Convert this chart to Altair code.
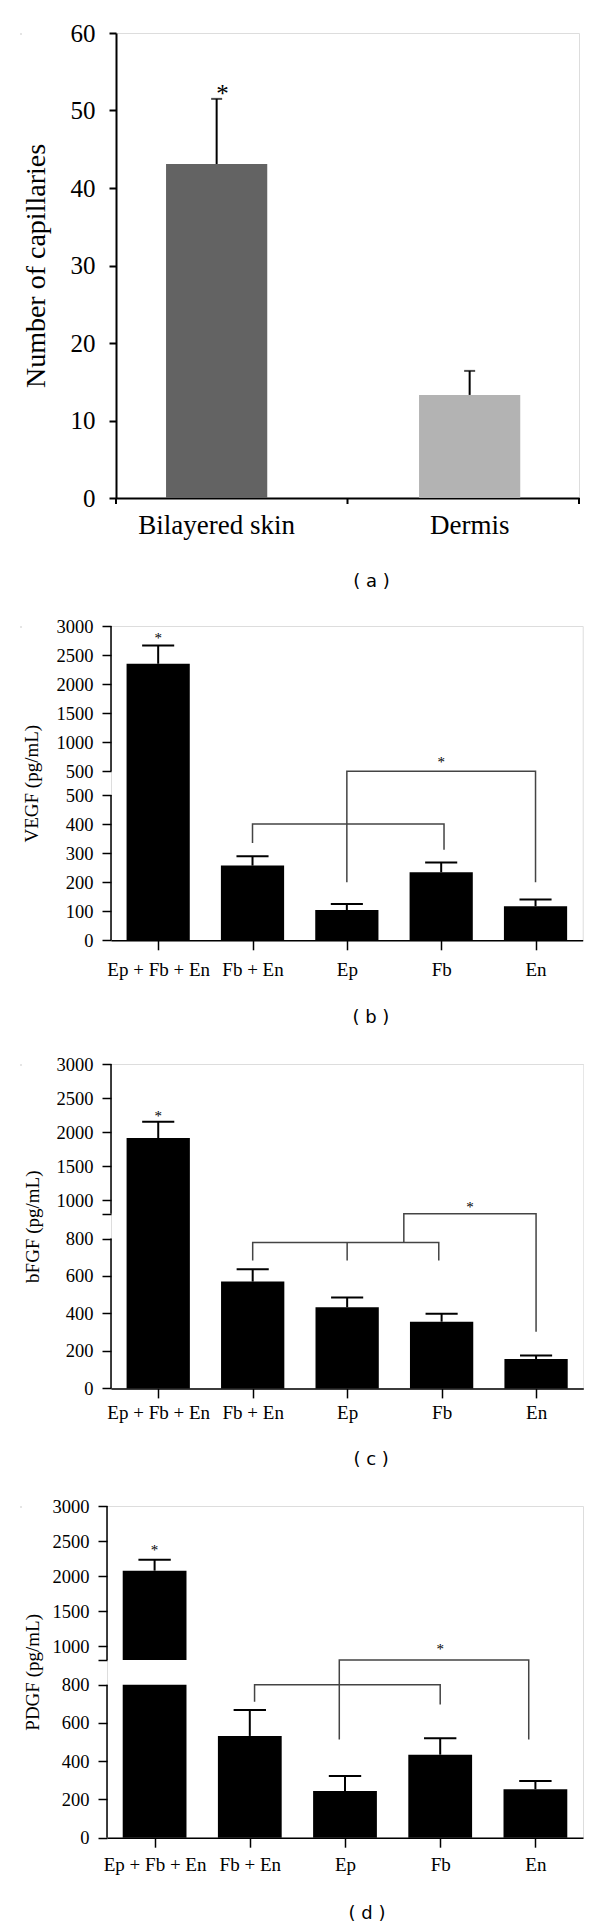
import altair as alt
import pandas as pd

# ---------------- data ----------------
# panel (a)
a_categories = ["Bilayered skin", "Dermis"]
a_means = [43.1, 13.3]
a_sem = [8.4, 3.1]
a_colors = ["#636363", "#b3b3b3"]
a_yticks = [0, 10, 20, 30, 40, 50, 60]
a_divisions = [0, 1, 2]

# panels (b)-(d)
categories = ["Ep + Fb + En", "Fb + En", "Ep", "Fb", "En"]
vegf_mean = [2350, 257, 104, 234, 117]
vegf_sem = [313, 32, 21, 34, 23]
bfgf_mean = [1912, 570, 433, 356, 157]
bfgf_sem = [241, 66, 52, 43, 18]
pdgf_mean = [2076, 532, 244, 434, 253]
pdgf_sem = [157, 136, 79, 86, 43]

vegf_ticks_low = [0, 100, 200, 300, 400, 500]
vegf_ticks_high = [500, 1000, 1500, 2000, 2500, 3000]
fgf_ticks_low = [0, 200, 400, 600, 800]
fgf_ticks_high = [800, 1000, 1500, 2000, 2500, 3000]
pdgf_ticks_low = [0, 200, 400, 600, 800]
pdgf_ticks_high = [800, 1000, 1500, 2000, 2500, 3000]
unlabeled_high = [800]

# significance brackets: polylines of (category index, value, axis segment)
vegf_brackets = [
    [(1, 335, "lo"), (1, 400, "lo"), (3.03, 400, "lo"), (3.03, 312, "lo")],
    [(2, 200, "lo"), (2, 500, "hi"), (4, 500, "hi"), (4, 200, "lo")],
]
vegf_stars = [(0, 2852, "hi"), (3, 706, "hi")]
bfgf_brackets = [
    [(1, 682, "lo"), (1, 779, "lo"), (2.97, 779, "lo"), (2.97, 682, "lo")],
    [(2, 779, "lo"), (2, 682, "lo")],
    [(2.6, 779, "lo"), (2.6, 800, "hi"), (4, 800, "hi"), (4, 303, "lo")],
]
bfgf_stars = [(0, 2279, "hi"), (3.3, 947, "hi")]
pdgf_brackets = [
    [(1.05, 711, "lo"), (1.05, 800, "lo"), (3, 800, "lo"), (3, 697, "lo")],
    [(1.94, 514, "lo"), (1.94, 800, "hi"), (3.93, 800, "hi"), (3.93, 514, "lo")],
]
pdgf_stars = [(0, 2419, "hi"), (3, 1000, "hi")]

SERIF = "Liberation Serif"
SANS = "DejaVu Sans"


def sub_title(text, offset, dx):
    return alt.TitleParams(text=text, orient="bottom", anchor="middle", font=SANS,
                           fontSize=18, fontWeight="normal", color="black",
                           baseline="top", offset=offset, dx=dx)


# ---------------- panel (a) ----------------
WA, HA = 463, 465
a_df = pd.DataFrame({"cat": a_categories, "mean": a_means,
                     "top": [m + s for m, s in zip(a_means, a_sem)]})
a_star = pd.DataFrame({"cat": [a_categories[0]], "star": [a_means[0] + a_sem[0] + 1.4]})

xa_scale = alt.Scale(domain=a_categories, paddingInner=0.6, paddingOuter=0.215, align=0.46)
xa_axis = alt.Axis(title=None, labelAngle=0, domain=True, domainColor="black", domainWidth=2,
                   ticks=False, tickSize=0, labelFont=SERIF, labelFontSize=27,
                   labelColor="black", labelPadding=14.4, grid=False)
ya_scale = alt.Scale(domain=[0, 60], nice=False)
ya_axis = alt.Axis(values=a_yticks, title="Number of capillaries", domain=True,
                   domainColor="black", domainWidth=2, ticks=True, tickSize=7, tickWidth=2,
                   tickColor="black", labelFont=SERIF, labelFontSize=25, labelColor="black",
                   labelPadding=14, titleFont=SERIF, titleFontSize=28, titleFontWeight="normal",
                   titleColor="black", titleX=-65.5, grid=False)


def XA(with_axis=False):
    return alt.X("cat:N", scale=xa_scale, axis=xa_axis if with_axis else None)


def YA(f):
    return alt.Y(f + ":Q", scale=ya_scale, axis=ya_axis)


a_bars = alt.Chart(a_df).mark_bar().encode(
    x=XA(True), y=YA("mean"),
    color=alt.Color("cat:N", scale=alt.Scale(domain=a_categories, range=a_colors), legend=None))
a_err = alt.Chart(a_df).mark_rule(color="black", strokeWidth=2).encode(x=XA(), y=YA("mean"), y2="top")
a_cap = alt.Chart(a_df).mark_tick(color="black", size=11, thickness=2).encode(x=XA(), y=YA("top"))
a_st = alt.Chart(a_star).mark_text(text="*", font=SERIF, fontSize=25, baseline="middle",
                                   dy=6, color="black").encode(x=XA(), y=YA("star"))
a_ticks = alt.Chart(pd.DataFrame({"p": a_divisions})).mark_rule(color="black", strokeWidth=2).encode(
    x=alt.X("p:Q", scale=alt.Scale(domain=[0, 2], nice=False, zero=False), axis=None),
    y=alt.value(HA), y2=alt.value(HA + 6))

panel_a = alt.layer(a_bars, a_err, a_cap, a_st, a_ticks).resolve_scale(
    x="independent").properties(width=WA, height=HA, title=sub_title("( a )", 35, 24))


# ---------------- panels (b)-(d) ----------------
def broken_panel(mean, sem, ticks_low, ticks_high, brk, gap_u, ratio, W, H, ytitle,
                 title_x, xlab_pad, brackets, stars, split_bar, sub, sub_offset, sub_dx):
    def t(v, seg=None):
        if seg is None:
            seg = "lo" if v <= brk else "hi"
        return round(v if seg == "lo" else brk + gap_u + (v - brk) * ratio, 4)

    top = t(max(ticks_high), "hi")
    vals = [t(v, "lo") for v in ticks_low] + [t(v, "hi") for v in ticks_high]
    labs = [str(v) for v in ticks_low] + ["" if v in unlabeled_high and v == brk else str(v)
                                          for v in ticks_high]
    label_expr = ("[" + ",".join("'%s'" % s for s in labs) + "][indexof(["
                  + ",".join(repr(v) for v in vals) + "], datum.value)]")
    cat_expr = "[" + ",".join("'%s'" % c for c in categories) + "][datum.value]"

    xs = alt.Scale(domain=[-0.5, len(categories) - 0.5], nice=False, zero=False)
    xaxis = alt.Axis(values=list(range(len(categories))), labelExpr=cat_expr, title=None,
                     grid=False, domain=True, domainColor="black", domainWidth=1.5, ticks=True,
                     tickSize=9.5, tickWidth=1.5, tickColor="black", labelFont=SERIF,
                     labelFontSize=19, labelColor="black", labelPadding=xlab_pad,
                     labelFlush=False, labelOverlap=False, labelAngle=0)
    ys = alt.Scale(domain=[0, top], nice=False, zero=False)
    yaxis = alt.Axis(values=vals, labelExpr=label_expr, title=ytitle, grid=False, domain=False,
                     ticks=True, tickSize=9, tickWidth=1.5, tickColor="black", labelFont=SERIF,
                     labelFontSize=18.5, labelColor="black", labelPadding=9, labelOverlap=False,
                     titleFont=SERIF, titleFontSize=19, titleFontWeight="normal",
                     titleColor="black", titleX=title_x)

    def X(f):
        return alt.X(f + ":Q", scale=xs, axis=xaxis)

    def Y(f):
        return alt.Y(f + ":Q", scale=ys, axis=yaxis)

    hw, cw = 0.335, 0.17
    bar_rows, err_rows, cap_rows = [], [], []
    for i, (m, s) in enumerate(zip(mean, sem)):
        if split_bar and m > brk:
            bar_rows.append({"x0": i - hw, "x1": i + hw, "y0": 0, "y1": t(brk, "lo")})
            bar_rows.append({"x0": i - hw, "x1": i + hw, "y0": t(brk, "hi"), "y1": t(m)})
        else:
            bar_rows.append({"x0": i - hw, "x1": i + hw, "y0": 0, "y1": t(m)})
        err_rows.append({"x0": i, "y0": t(m), "y1": t(m + s)})
        cap_rows.append({"x0": i - cw, "x1": i + cw, "y0": t(m + s)})
    axis_rows = [{"y0": 0, "y1": t(brk, "lo")}, {"y0": t(brk, "hi"), "y1": top}]
    line_rows = []
    for g, poly in enumerate(brackets):
        for k, (xi, v, seg) in enumerate(poly):
            line_rows.append({"g": g, "k": k, "x0": xi, "y0": t(v, seg)})
    star_rows = [{"x0": xi, "y0": t(v, seg)} for xi, v, seg in stars]

    bars = alt.Chart(pd.DataFrame(bar_rows)).mark_bar(color="black").encode(
        x=X("x0"), x2="x1", y=Y("y0"), y2="y1")
    errs = alt.Chart(pd.DataFrame(err_rows)).mark_rule(color="black", strokeWidth=2).encode(
        x=X("x0"), y=Y("y0"), y2="y1")
    caps = alt.Chart(pd.DataFrame(cap_rows)).mark_rule(color="black", strokeWidth=2).encode(
        x=X("x0"), x2="x1", y=Y("y0"))
    axl = alt.Chart(pd.DataFrame(axis_rows)).mark_rule(color="black", strokeWidth=1.5).encode(
        x=alt.value(0), y=Y("y0"), y2="y1")
    lines = alt.Chart(pd.DataFrame(line_rows)).mark_line(color="#444444", strokeWidth=1.5).encode(
        x=X("x0"), y=Y("y0"), detail="g:N", order="k:Q")
    sts = alt.Chart(pd.DataFrame(star_rows)).mark_text(
        text="*", font=SERIF, fontSize=15, baseline="middle", dy=3, color="black").encode(
        x=X("x0"), y=Y("y0"))
    return alt.layer(bars, errs, caps, axl, lines, sts).properties(
        width=W, height=H, title=sub_title(sub, sub_offset, sub_dx))


panel_b = broken_panel(vegf_mean, vegf_sem, vegf_ticks_low, vegf_ticks_high, 500, 81.6, 0.2,
                       471.7, 314.3, "VEGF (pg/mL)", -69.3, 10.2, vegf_brackets, vegf_stars,
                       False, "( b )", 30, 24)
panel_c = broken_panel(bfgf_mean, bfgf_sem, fgf_ticks_low, fgf_ticks_high, 800, 132.0, 0.3634,
                       472.3, 324.4, "bFGF (pg/mL)", -68.7, 5.8, bfgf_brackets, bfgf_stars,
                       False, "( c )", 28, 24)
panel_d = broken_panel(pdgf_mean, pdgf_sem, pdgf_ticks_low, pdgf_ticks_high, 800, 129.1, 0.366,
                       476, 331.7, "PDGF (pg/mL)", -65, 8.5, pdgf_brackets, pdgf_stars,
                       True, "( d )", 30, 22)


def spacer():
    # an empty 1px cell in front of each panel, so the panels line up by their outer left edge
    return alt.Chart(pd.DataFrame({"z": [0]})).mark_rule(strokeOpacity=0, strokeWidth=0).encode(
        x=alt.value(0), y=alt.value(0), y2=alt.value(1)).properties(width=1, height=1)


row_a, row_b, row_c, row_d = [alt.hconcat(spacer(), p, spacing=0)
                              for p in (panel_a, panel_b, panel_c, panel_d)]
lower = alt.concat(row_b, row_c, row_d, columns=1, spacing=26, align="none")
chart = alt.concat(row_a, lower, columns=1, spacing=24, align="none").properties(
    padding={"left": 11, "top": 12, "right": 0, "bottom": 0}
).configure_view(stroke=None).configure(background="white")

chart.save("out.html", embed_options={"renderer": "svg", "actions": False})
